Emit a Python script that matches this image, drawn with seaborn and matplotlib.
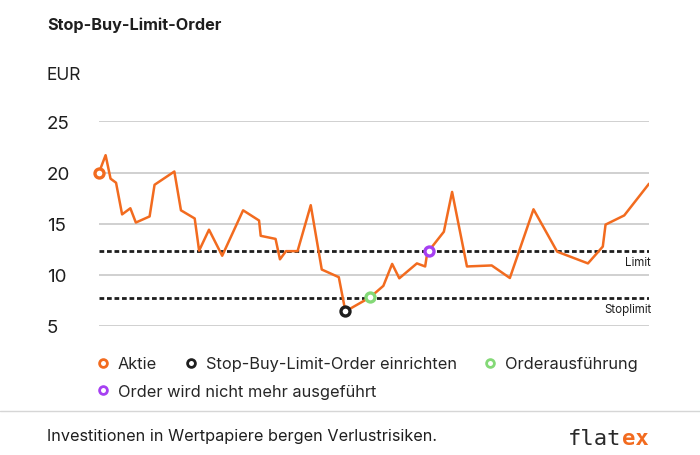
import matplotlib
matplotlib.use("Agg")
import matplotlib.pyplot as plt
import seaborn as sns
from matplotlib.lines import Line2D
from matplotlib import transforms

# Kursverlauf der Aktie (Tag, Kurs in EUR)
day = [0, 1.2, 2.1, 3.1, 4.2, 5.7, 6.7, 9.2, 10.1, 13.7, 14.9, 17.4, 18.2, 20.0,
       22.4, 26.2, 29.1, 29.4, 32.1, 32.9, 34.0, 36.1, 38.5, 40.5, 43.6, 44.8,
       49.3, 51.7, 53.3, 54.6, 57.8, 59.3, 59.6, 60.0, 62.7, 64.2, 66.9, 71.4,
       74.7, 79.0, 83.3, 88.9, 91.6, 92.1, 95.5, 100]
price = [20.0, 21.7, 19.4, 19.0, 15.9, 16.5, 15.1, 15.7, 18.8, 20.1, 16.3, 15.5,
         12.35, 14.4, 11.85, 16.3, 15.3, 13.8, 13.5, 11.5, 12.3, 12.3, 16.8, 10.5,
         9.75, 6.4, 7.78, 8.9, 11.05, 9.64, 11.1, 10.8, 11.85, 12.35, 14.2, 18.1,
         10.8, 10.9, 9.67, 16.4, 12.25, 11.1, 12.75, 14.9, 15.8, 18.9]

limit = 12.3
stoplimit = 7.7

# Ereignisse: Index im Kursverlauf
events = ["Aktie", "Stop-Buy-Limit-Order einrichten", "Orderausführung",
          "Order wird nicht mehr ausgeführt"]
event_idx = [0, 25, 26, 33]
event_colors = ["#f26b1f", "#1e1e1e", "#84d977", "#a640f2"]

yticks = [5, 10, 15, 20, 25]

sns.set_style("white")
plt.rcParams["font.family"] = ["Inter", "DejaVu Sans"]

fig = plt.figure(figsize=(7, 4.56), dpi=100)
ax = fig.add_axes([99 / 700, 0.2836, 550 / 700, 0.4478])

ax.yaxis.grid(True, color="#c4c4c4", lw=1.1)
ax.set_axisbelow(True)

ax.axhline(limit, color="#1e1e1e", lw=2.0, ls=(0, (1.7, 1.0)), zorder=2)
ax.axhline(stoplimit, color="#1e1e1e", lw=2.0, ls=(0, (1.7, 1.0)), zorder=2)

sns.lineplot(x=day, y=price, ax=ax, color=event_colors[0], lw=1.8,
             estimator=None, zorder=3)

for i, c in zip(event_idx, event_colors):
    sns.scatterplot(x=[day[i]], y=[price[i]], ax=ax, s=42, facecolor="white",
                    edgecolor=c, linewidth=2.4, zorder=4, clip_on=False)

ax.set_xlim(0, 100)
ax.set_ylim(5, 25)
ax.set_xticks([])
ax.set_yticks(yticks)
ax.tick_params(axis="y", length=0, pad=37.4, labelsize=13.5, labelcolor="#1e1e1e")
for lab in ax.get_yticklabels():
    lab.set_ha("left")
sns.despine(ax=ax, left=True, bottom=True)

trans = transforms.blended_transform_factory(ax.transAxes, ax.transData)
for val, txt in [(limit, "Limit"), (stoplimit, "Stoplimit")]:
    ax.annotate(txt, xy=(1, val), xycoords=trans, xytext=(1.5, -7.5),
                textcoords="offset points", ha="right", va="center",
                fontsize=8.3, color="#1e1e1e")

fig.text(47 / 700, 1 - 25 / 456, "Stop-Buy-Limit-Order", fontsize=11.7,
         fontweight="bold", va="center", color="#1e1e1e")
fig.text(47 / 700, 1 - 76 / 456, "EUR", fontsize=12.5, va="center", color="#1e1e1e")

handles = [Line2D([], [], ls="none", marker="o", ms=5.6, mew=2.0,
                  mfc="white", mec=c) for c in event_colors]
leg_kw = dict(frameon=False, fontsize=11.8, handlelength=0.6, handletextpad=0.6,
              columnspacing=1.75, borderpad=0, borderaxespad=0, loc="center left")
fig.legend(handles[:3], events[:3], ncol=3,
           bbox_to_anchor=(98.3 / 700, 1 - 365 / 456), **leg_kw)
fig.legend(handles[3:], events[3:], ncol=1,
           bbox_to_anchor=(98.3 / 700, 1 - 392.7 / 456), **leg_kw)

fig.add_artist(Line2D([0, 1], [1 - 412.3 / 456] * 2, transform=fig.transFigure,
                      color="#d6d6d6", lw=1))
fig.text(47 / 700, 1 - 436.7 / 456, "Investitionen in Wertpapiere bergen Verlustrisiken.",
         fontsize=11.7, va="center", color="#1e1e1e")

logo_fs = 16
char_w = 0.602 * logo_fs * 100 / 72
fig.text(568 / 700, 1 - 439 / 456, "flat", fontsize=logo_fs, family="DejaVu Sans Mono",
         va="center", color="#2a2a2a")
fig.text((568 + 4 * char_w) / 700, 1 - 439 / 456, "ex", fontsize=logo_fs,
         family="DejaVu Sans Mono", fontweight="bold", va="center", color=event_colors[0])

fig.savefig("out.png", dpi=100)
